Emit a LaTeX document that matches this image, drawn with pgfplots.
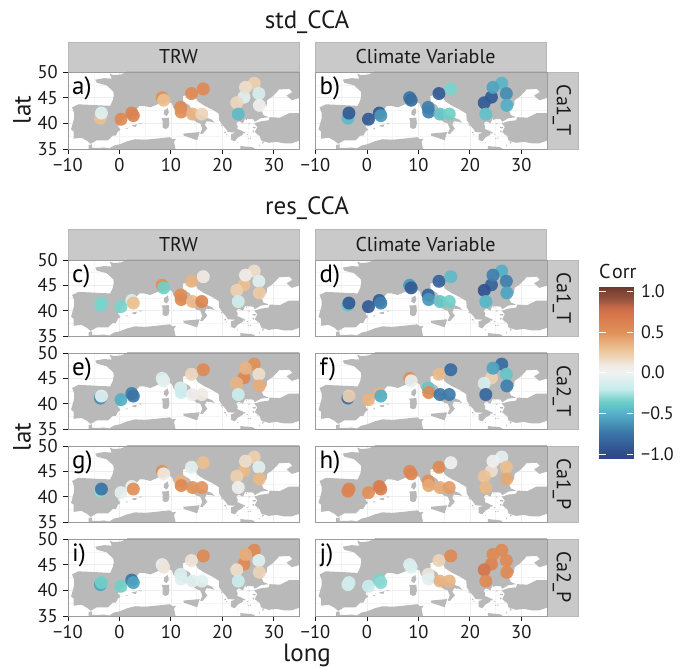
\documentclass[border=0pt]{standalone}
\usepackage{pgfplots}
\usepackage{pgfplotstable}
\usepackage{fontspec}
\setmainfont{PT Sans}
\pgfplotsset{compat=1.18}
\definecolor{landc}{HTML}{B9B9B9}
\definecolor{stripc}{HTML}{C9C9C9}
\definecolor{framec}{HTML}{9C9C9C}
\definecolor{txtc}{HTML}{1A1A1A}
\pgfplotsset{
  colormap={corr}{
    rgb255(0pt)=(47,70,135);
    rgb255(6pt)=(47,74,138);
    rgb255(31pt)=(58,116,166);
    rgb255(56pt)=(85,176,200);
    rgb255(71pt)=(111,208,200);
    rgb255(86pt)=(200,236,236);
    rgb255(106pt)=(240,242,242);
    rgb255(116pt)=(240,232,224);
    rgb255(136pt)=(236,192,144);
    rgb255(156pt)=(224,144,88);
    rgb255(176pt)=(216,120,76);
    rgb255(186pt)=(201,106,74);
    rgb255(196pt)=(150,84,62);
    rgb255(211pt)=(110,58,46)},
}
\pgfplotstableread{
lon   lat   latstd a     b     c     d     e     f     g     h     i     j
-3.7  41.1  41.0   0.30  -0.45 -0.33 -0.40 -0.65 -0.75 -0.30 0.60  -0.55 -0.15
-3.5  41.5  42.0   -0.08 -0.90 -0.33 -0.90 -0.07 0.22  -0.75 0.60  -0.35 -0.15
0.3   40.8  40.8   0.55  -0.90 -0.33 -0.90 -0.50 0.35  -0.05 0.50  -0.35 -0.20
2.4   42.0  42.0   0.60  -0.90 -0.10 -0.90 -0.70 0.35  -0.02 0.65  -0.75 -0.33
2.7   41.5  41.5   0.60  -0.60 0.30  -0.70 -0.75 -0.50 0.50  0.65  -0.55 -0.30
8.3   45.0  45.0   0.50  -0.75 0.50  -0.60 -0.10 0.50  0.50  0.55  -0.05 -0.10
8.6   44.5  44.5   0.30  -0.80 -0.35 -0.90 -0.07 -0.05 0.08  0.58  0.12  -0.10
11.9  43.1  43.1   0.55  -0.70 0.50  -0.85 -0.10 -0.40 0.35  0.50  -0.10 0.12
12.0  42.2  42.2   0.50  -0.70 0.55  -0.60 -0.18 0.55  0.55  0.40  -0.10 -0.07
14.0  45.8  45.8   0.55  -0.90 0.35  -0.85 0.18  0.32  -0.07 0.55  0.12  0.20
14.2  41.8  41.8   0.35  -0.40 0.32  -0.40 0.03  -0.72 0.48  0.38  -0.07 0.35
16.3  46.7  46.7   0.55  -0.33 0.08  -0.45 0.55  -0.80 0.30  0.00  0.55  0.55
16.0  41.8  41.8   0.20  -0.35 0.60  -0.35 0.08  -0.72 0.48  0.45  -0.07 0.35
26.2  47.8  47.8   0.22  -0.47 0.15  -0.50 0.50  -0.80 0.22  -0.05 0.55  0.55
24.2  45.1  45.1   -0.08 -0.90 0.30  -0.85 0.58  0.22  0.32  0.15  0.55  0.60
24.5  47.0  47.0   0.15  -0.55 0.05  -0.70 0.35  -0.55 0.15  0.00  0.38  0.55
22.8  44.0  44.0   0.18  -0.90 0.22  -0.95 0.35  -0.12 0.22  0.28  0.15  0.72
27.1  45.8  45.8   -0.12 -0.65 -0.08 -0.70 0.15  -0.40 -0.07 0.30  -0.07 0.55
27.2  43.5  43.5   0.03  -0.50 0.25  -0.55 0.38  -0.70 0.33  0.40  0.20  0.55
23.1  41.8  41.8   -0.45 -0.42 -0.15 -0.47 -0.18 -0.82 0.02  0.33  -0.18 0.55
}\sites
\newcommand\isle[1]{\addplot[fill=landc,draw=none,forget plot] coordinates {#1} --cycle;}
\newcommand\landmap{%
  \isle{(1.5,50.2)(1.5,50)(0.2,49.5)(-1.2,49.4)(-1.9,49.7)(-1.5,48.7)(-3,48.8)(-4.7,48.5)(-4.4,47.9)(-2.5,47.4)(-1.2,46.2)(-1.1,45.5)(-1.3,44.5)(-1.8,43.4)(-3.8,43.5)(-5.8,43.6)(-8,43.7)(-9.2,43.1)(-8.8,42)(-8.8,41)(-9.4,38.8)(-8.9,38.4)(-8.9,37)(-7.4,37.2)(-6.3,36.6)(-5.6,36)(-4.4,36.7)(-2.2,36.7)(-1.3,37.6)(-0.7,37.6)(-0.3,38.4)(0.2,38.75)(-0.3,39.4)(0.5,40.5)(1,41)(2.2,41.4)(3.2,41.9)(3.1,42.5)(3.9,43.4)(4.8,43.4)(6,43.1)(7.4,43.7)(8.8,44.4)(10.2,43.9)(10.5,43)(11.2,42.4)(12.3,41.7)(13.7,41.2)(14.4,40.7)(15,40.2)(15.7,40)(16.1,39)(15.7,38)(16.1,37.9)(17.1,39)(16.6,39.7)(16.9,40.4)(17.9,40.3)(18.5,40.1)(18,40.7)(16,41.5)(15.3,41.9)(14.2,42.4)(13.6,43.5)(12.4,44.2)(12.3,45.3)(13.7,45.7)(13.6,45)(14.2,45)(14.8,45.1)(15.2,44.3)(16.4,43.5)(18,42.7)(19.3,41.9)(19.4,40.6)(20,39.7)(20.7,38.9)(21.1,38.3)(22.6,38.2)(21.7,37.9)(21.7,36.8)(22.4,36.5)(23.1,37.3)(24,37.8)(24,38.2)(22.9,38.9)(23,39.4)(22.7,40)(23.2,40.4)(24,40)(24.4,40.9)(26,40.8)(26.3,40.3)(27.5,41)(29,41.2)(28,41.6)(27.6,42.5)(28,43.3)(28.6,43.4)(28.7,44.5)(29.7,45.2)(30.7,46.2)(31,46.6)(33,46.7)(33.6,46.1)(32.5,45.4)(33.5,44.5)(35.2,45)(35.2,46.2)(35.2,50.2)}
  \isle{(26.2,40)(26.8,39.3)(26.3,38.3)(27.3,37.5)(27.5,36.7)(29,36.2)(30.5,36.4)(32,36.1)(33.5,36.1)(35.2,36.7)(35.2,42)(33,42)(31.2,41.1)(29.2,41.2)(29,40.6)(27.5,40.4)}
  \isle{(-6,34.5)(-6,35.8)(-5.3,35.9)(-5.3,35.2)(-4,35.2)(-3,35.3)(-2,35.1)(-1,35.7)(0,35.9)(1.5,36.5)(3,36.9)(5,36.8)(7,37)(9.8,37.3)(10.3,36.9)(11,37)(10.6,36.4)(10.8,35.5)(11,34.5)}
  \isle{(8.2,41)(9.6,41.1)(9.7,40)(9.5,39.1)(8.9,38.9)(8.4,39.2)(8.4,40.5)}
  \isle{(9.4,43)(9.6,42.1)(9.2,41.4)(8.6,41.8)(8.7,42.5)}
  \isle{(12.4,38)(15.6,38.3)(15.1,36.7)(12.5,37.6)}
  \isle{(2.4,39.6)(3.4,39.8)(3.2,39.3)(2.6,39.4)}
  \isle{(3.8,40)(4.3,40)(4.2,39.8)(3.8,39.9)}
  \isle{(1.2,39)(1.6,39.1)(1.5,38.85)(1.3,38.85)}
  \isle{(23,38.9)(24.5,38.2)(24.2,38)(23.2,38.6)}
  \isle{(23.5,35.6)(24.2,35.5)(25.5,35.4)(26.3,35.2)(26.2,34.9)(23.5,34.9)}
  \isle{(20.4,38.3)(20.7,38.4)(20.7,38.1)(20.4,38.1)}
  \isle{(19.7,39.8)(20,39.7)(19.9,39.4)}
  \isle{(25.1,40)(25.4,40)(25.3,39.8)(25.1,39.8)}
  \isle{(24.5,40.8)(24.8,40.8)(24.7,40.55)}
  \isle{(25.9,39.3)(26.5,39.3)(26.4,39)(25.9,39.1)}
  \isle{(25.9,38.6)(26.2,38.6)(26.1,38.2)(25.9,38.3)}
  \isle{(26.6,37.8)(27,37.8)(26.9,37.65)}
  \isle{(27.8,36.5)(28.2,36.4)(27.8,36)}
  \isle{(27.05,35.8)(27.25,35.8)(27.2,35.4)}
  \isle{(25.3,37.2)(25.6,37.2)(25.5,36.95)}
  \isle{(24.7,37.95)(25,37.9)(24.9,37.75)}
  \isle{(24.9,37.15)(25.2,37.1)(25,36.95)}
  \isle{(22.9,36.4)(23.1,36.3)(23,36.15)}
  \isle{(20.7,37.9)(20.95,37.8)(20.8,37.65)}
}
\newcommand\txt[1]{\fontsize{#1}{#1}\selectfont}
\newcommand\panel[7]{%
  \begin{axis}[at={(#1pt,{(669-#3)*1pt})},anchor=south west,scale only axis,
    width=231.5pt,height={(#3-#2)*1pt},
    xmin=-10,xmax=35,ymin=35,ymax=50,
    xtick={-10,0,10,20,30},ytick={35,40,45,50},
    minor xtick={-5,5,15,25,35},minor ytick={37.5,42.5,47.5},
    grid=both,major grid style={color=black!7,line width=.6pt},
    minor grid style={color=black!4,line width=.4pt},
    axis line style={draw=none},
    clip=true,
    colormap name=corr,point meta min=-1.06,point meta max=1.05,
    tick style={color=txtc,line width=.8pt},
    tick align=outside,major tick length=5pt,minor tick length=0pt,
    xtick pos=bottom,ytick pos=left,
    xticklabels={−10,0,10,20,30},yticklabels={35,40,45,50},
    tick label style={font=\txt{18.5},text=txtc},
    ticklabel style={inner sep=0pt},
    xticklabel style={yshift=-4pt},yticklabel style={xshift=-5pt},
    #6]
    \landmap
    \addplot[scatter,only marks,mark=*,mark size=6.5pt,
      scatter/use mapped color={draw=mapped color,fill=mapped color},
      mark options={fill opacity=.92,draw opacity=0},
      scatter src=explicit]
      table[x=lon,y=#5,meta=#4]{\sites};
  \end{axis}
  \draw[framec,line width=.9pt] (#1pt,{(669-#3)*1pt}) rectangle ({(#1+231.5)*1pt},{(669-#2)*1pt});
  \node[anchor=west,inner sep=0pt,text=black,font=\txt{25}] at ({(#1+4)*1pt},{(669-#2-16)*1pt}) {#7};
}
\pgfplotsset{
  noX/.style={xticklabels={},x tick style={draw=none}},
  noY/.style={yticklabels={},y tick style={draw=none}},
}
\newcommand\hstrip[4]{%
  \fill[stripc] (#1pt,{(669-#2)*1pt}) rectangle ({(#1+231.5)*1pt},{(669-#3)*1pt});
  \draw[black!28,line width=.5pt] (#1pt,{(669-#3)*1pt}) |- ({(#1+231.5)*1pt},{(669-#2)*1pt}) -- ({(#1+231.5)*1pt},{(669-#3)*1pt});
  \node[text=txtc,font=\txt{20}] at ({(#1+110.5)*1pt},{(669-(#2+#3)/2)*1pt}) {#4};
}
\newcommand\vstrip[3]{%
  \fill[stripc] (547pt,{(669-#1)*1pt}) rectangle (578pt,{(669-#2)*1pt});
  \draw[black!28,line width=.5pt] (547pt,{(669-#1)*1pt}) -- (578pt,{(669-#1)*1pt}) -- (578pt,{(669-#2)*1pt}) -- (547pt,{(669-#2)*1pt});
  \node[text=txtc,font=\txt{20},rotate=-90] at (562pt,{(669-(#1+#2)/2)*1pt}) {#3};
}
\begin{document}
\begin{tikzpicture}[x=1pt,y=1pt]
\path[use as bounding box] (0,0) rectangle (681pt,669pt);
\hstrip{68}{42}{72}{TRW}
\hstrip{315}{42}{72}{Climate Variable}
\hstrip{68}{229}{260}{TRW}
\hstrip{315}{229}{260}{Climate Variable}
\vstrip{72}{149}{Ca1\_T}
\vstrip{260}{336}{Ca1\_T}
\vstrip{353}{429}{Ca2\_T}
\vstrip{446}{522}{Ca1\_P}
\vstrip{539}{616}{Ca2\_P}
\panel{68}{72}{149}{a}{latstd}{}{a)}
\panel{315.5}{72}{149}{b}{latstd}{noY}{b)}
\panel{68}{260}{336}{c}{lat}{noX}{c)}
\panel{315.5}{260}{336}{d}{lat}{noX,noY}{d)}
\panel{68}{353}{429}{e}{lat}{noX}{e)}
\panel{315.5}{353}{429}{f}{lat}{noX,noY}{f)}
\panel{68}{446}{522}{g}{lat}{noX}{g)}
\panel{315.5}{446}{522}{h}{lat}{noX,noY}{h)}
\panel{68}{539}{616}{i}{lat}{}{i)}
\panel{315.5}{539}{616}{j}{lat}{noY}{j)}
\node[font=\txt{25},text=txtc] at (307pt,{(669-22)*1pt}) {std\_CCA};
\node[font=\txt{25},text=txtc] at (307pt,{(669-208)*1pt}) {res\_CCA};
\node[font=\txt{25},text=txtc,rotate=90] at (22pt,{(669-110)*1pt}) {lat};
\node[font=\txt{25},text=txtc,rotate=90] at (22pt,{(669-437)*1pt}) {lat};
\node[font=\txt{25},text=txtc] at (307pt,{(669-655)*1pt}) {long};
\node[font=\txt{20},text=txtc,anchor=west,inner sep=0pt] at (599pt,{(669-272)*1pt}) {C\hspace{1.5pt}orr};
\begin{axis}[at={(599pt,{(669-459)*1pt})},anchor=south west,scale only axis,
  width=34pt,height=172pt,xmin=0,xmax=1,ymin=-1.06,ymax=1.05,
  colormap name=corr,point meta min=-1.06,point meta max=1.05,
  axis line style={draw=none},axis on top,
  xtick=\empty,ytick={-1,-0.5,0,0.5,1},
  yticklabels={−1.0,−0.5,0.0,0.5,1.0},
  ytick pos=both,yticklabel pos=right,tick align=inside,major tick length=6.5pt,
  tick style={color=white,line width=.5pt},
  yticklabel style={font=\txt{18},text=txtc,anchor=west,inner sep=0pt,xshift=8pt}]
  \addplot[surf,shader=interp,mesh/rows=2,point meta=y] coordinates {
    (0,-1.06)(1,-1.06)
    (0,1.05)(1,1.05)};
\end{axis}
\end{tikzpicture}
\end{document}
